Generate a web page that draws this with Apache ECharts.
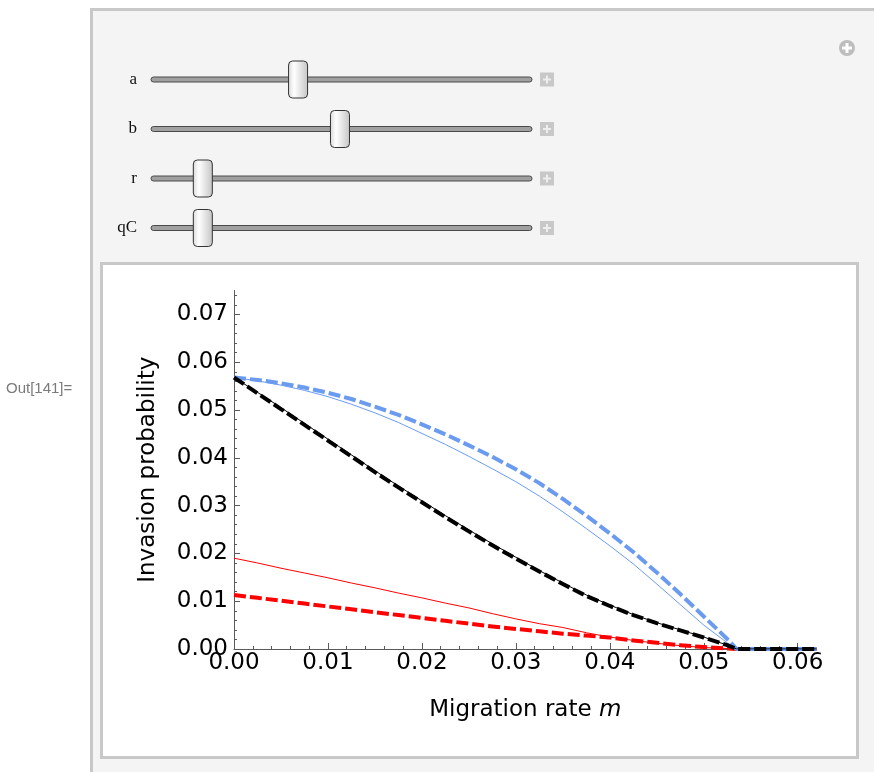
<!DOCTYPE html>
<html>
<head>
<meta charset="utf-8">
<script src="https://cdn.jsdelivr.net/npm/echarts@6/dist/echarts.min.js"></script>
<style>
html,body{margin:0;padding:0;background:#fff;}
#chart{width:874px;height:772px;}
</style>
</head>
<body>
<div id="chart"></div>
<script>
// ---- data ----
const mValues = [0, 0.0025, 0.005, 0.0075, 0.01, 0.0125, 0.015, 0.0175, 0.02, 0.0225, 0.025, 0.0275,
  0.03, 0.0325, 0.035, 0.0375, 0.04, 0.0425, 0.045, 0.0475, 0.05, 0.0525, 0.0535, 0.062];

const blueDashed = [0.0568, 0.0563, 0.0556, 0.0547, 0.0536, 0.0523, 0.0507, 0.0490, 0.0470, 0.0449, 0.0426, 0.0402,
  0.0376, 0.0347, 0.0314, 0.0279, 0.0242, 0.0203, 0.0160, 0.0115, 0.0068, 0.0021, 0, 0];
const blueThin = [0.0568, 0.0561, 0.0552, 0.0541, 0.0528, 0.0512, 0.0494, 0.0474, 0.0451, 0.0428, 0.0403, 0.0377,
  0.0350, 0.0320, 0.0287, 0.0252, 0.0216, 0.0178, 0.0136, 0.0093, 0.0050, 0.0013, 0, 0];
const blackDashed = [0.0568, 0.0535, 0.0502, 0.0469, 0.0436, 0.0403, 0.0370, 0.0338, 0.0307, 0.0276, 0.0246, 0.0217,
  0.0189, 0.0162, 0.0136, 0.0111, 0.0090, 0.0071, 0.0054, 0.0039, 0.0024, 0.0008, 0, 0];
const blackThin = [0.0568, 0.0537, 0.0505, 0.0472, 0.0439, 0.0406, 0.0373, 0.0341, 0.0310, 0.0279, 0.0249, 0.0220,
  0.0192, 0.0164, 0.0138, 0.0113, 0.0092, 0.0072, 0.0055, 0.0040, 0.0025, 0.0008, 0, 0];
const redThin = [0.0190, 0.0180, 0.0169, 0.0159, 0.0149, 0.0138, 0.0128, 0.0117, 0.0107, 0.0096, 0.0086, 0.0074,
  0.0063, 0.0053, 0.0045, 0.0034, 0.0025, 0.0018, 0.0012, 0.0007, 0.0003, 0.0001, 0, 0];
const redDashed = [0.0113, 0.0107, 0.0101, 0.0095, 0.0089, 0.0083, 0.0077, 0.0071, 0.0065, 0.0059, 0.0053, 0.0047,
  0.0042, 0.0037, 0.0032, 0.0028, 0.0024, 0.0018, 0.0013, 0.0008, 0.0004, 0.0001, 0, 0];

const xTicks = [0, 0.01, 0.02, 0.03, 0.04, 0.05, 0.06];
const xMinorTicks = [0.002,0.004,0.006,0.008,0.012,0.014,0.016,0.018,0.022,0.024,0.026,0.028,0.032,0.034,0.036,0.038,
  0.042,0.044,0.046,0.048,0.052,0.054,0.056,0.058];
const yTicks = [0, 0.01, 0.02, 0.03, 0.04, 0.05, 0.06, 0.07];
const yMinorTicks = [0.002,0.004,0.006,0.008,0.012,0.014,0.016,0.018,0.022,0.024,0.026,0.028,0.032,0.034,0.036,0.038,
  0.042,0.044,0.046,0.048,0.052,0.054,0.056,0.058,0.062,0.064,0.066,0.068,0.072,0.074];

const sliderNames = ['a', 'b', 'r', 'qC'];
const sliderValues = [0.386, 0.496, 0.136, 0.136];

// ---- chart ----
const chart = echarts.init(document.getElementById('chart'), null, {renderer: 'canvas'});
const FONT = 'DejaVu Sans';
const axisGray = '#5a5a5a';
const pair = v => mValues.map((m, i) => [m, v[i]]);

const graphics = [];
graphics.push({type: 'rect', silent: true, z: -20,
  shape: {x: 91.5, y: 9.5, width: 800, height: 800},
  style: {fill: '#f4f4f4', stroke: '#c8c8c8', lineWidth: 3}});
graphics.push({type: 'rect', silent: true, z: -19,
  shape: {x: 101.5, y: 263.5, width: 756, height: 494},
  style: {fill: '#ffffff', stroke: '#c8c8c8', lineWidth: 3}});
graphics.push({type: 'text', silent: true, z: -18, x: 6, y: 389,
  style: {text: 'Out[141]=', font: '15px "Liberation Sans"', fill: '#7a7a7a', verticalAlign: 'middle'}});
// plus circle icon
graphics.push({type: 'circle', silent: true, z: -18, shape: {cx: 847, cy: 48, r: 8}, style: {fill: '#bdbdbd'}});
graphics.push({type: 'line', silent: true, z: -17, shape: {x1: 842, y1: 48, x2: 852, y2: 48}, style: {stroke: '#fff', lineWidth: 3}});
graphics.push({type: 'line', silent: true, z: -17, shape: {x1: 847, y1: 43, x2: 847, y2: 53}, style: {stroke: '#fff', lineWidth: 3}});

const trackX = 151, trackW = 381;
sliderNames.forEach((nm, i) => {
  const ty = 79.5 + i * 49.5;
  graphics.push({type: 'text', silent: true, z: -18, x: 137, y: ty,
    style: {text: nm, font: '17px "Liberation Serif"', fill: '#111', align: 'right', verticalAlign: 'middle'}});
  graphics.push({type: 'rect', silent: true, z: -18,
    shape: {x: trackX, y: ty - 2.5, width: trackW, height: 5, r: 2.5},
    style: {fill: '#a0a0a0', stroke: '#4a4a4a', lineWidth: 1}});
  const tx = trackX + sliderValues[i] * trackW;
  graphics.push({type: 'rect', silent: true, z: -17,
    shape: {x: tx - 9.5, y: ty - 18.5, width: 19, height: 37, r: 4},
    style: {fill: new echarts.graphic.LinearGradient(0, 0, 1, 0, [
      {offset: 0, color: '#d8d8d8'}, {offset: 0.3, color: '#ffffff'}, {offset: 1, color: '#c4c4c4'}]),
      stroke: '#333', lineWidth: 1}});
  graphics.push({type: 'rect', silent: true, z: -18,
    shape: {x: 540, y: ty - 7, width: 14, height: 14},
    style: {fill: '#c8c8c8'}});
  graphics.push({type: 'line', silent: true, z: -17, shape: {x1: 543, y1: ty, x2: 551, y2: ty}, style: {stroke: '#eee', lineWidth: 2}});
  graphics.push({type: 'line', silent: true, z: -17, shape: {x1: 547, y1: ty - 4, x2: 547, y2: ty + 4}, style: {stroke: '#eee', lineWidth: 2}});
});

const lineSeries = (name, vals, color, width, dashed, z) => ({
  name, type: 'line', xAxisIndex: 0, yAxisIndex: 0, data: pair(vals),
  showSymbol: false, symbol: 'none', smooth: false, clip: true, z,
  lineStyle: {color, width, type: dashed ? [12, 4] : 'solid', cap: 'butt', join: 'round'},
  emphasis: {disabled: true}
});

const option = {
  animation: false,
  backgroundColor: '#ffffff',
  graphic: {elements: graphics},
  grid: {left: 234, top: 290.5, width: 582.5, height: 358.5, containLabel: false, outerBoundsMode: 'none'},
  xAxis: [{
    type: 'value', min: 0, max: 0.062, position: 'bottom',
    axisLine: {show: true, onZero: false, lineStyle: {color: axisGray, width: 1}},
    axisTick: {show: true, inside: true, length: 6, customValues: xTicks, lineStyle: {color: axisGray, width: 1}},
    axisLabel: {show: true, customValues: xTicks, formatter: v => v.toFixed(2), fontFamily: FONT, fontSize: 23, color: '#000', margin: 3},
    splitLine: {show: false},
    name: '{n|Migration rate }{i|m}', nameLocation: 'middle', nameGap: 50,
    nameTextStyle: {rich: {n: {fontFamily: FONT, fontSize: 23, color: '#000'}, i: {fontFamily: FONT, fontSize: 23, fontStyle: 'italic', color: '#000'}}}
  }, {
    type: 'value', min: 0, max: 0.062, position: 'bottom',
    axisLine: {show: false, onZero: false},
    axisTick: {show: true, inside: true, length: 3, customValues: xMinorTicks, lineStyle: {color: axisGray, width: 1}},
    axisLabel: {show: false}, splitLine: {show: false}
  }],
  yAxis: [{
    type: 'value', min: 0, max: 0.075, position: 'left',
    axisLine: {show: true, onZero: false, lineStyle: {color: axisGray, width: 1}},
    axisTick: {show: true, inside: true, length: 6, customValues: yTicks, lineStyle: {color: axisGray, width: 1}},
    axisLabel: {show: true, customValues: yTicks, formatter: v => v.toFixed(2), fontFamily: FONT, fontSize: 23, color: '#000', margin: 6},
    splitLine: {show: false},
    name: 'Invasion probability', nameLocation: 'middle', nameGap: 74, nameRotate: 90,
    nameTextStyle: {fontFamily: FONT, fontSize: 23, color: '#000'}
  }, {
    type: 'value', min: 0, max: 0.075, position: 'left',
    axisLine: {show: false, onZero: false},
    axisTick: {show: true, inside: true, length: 3, customValues: yMinorTicks, lineStyle: {color: axisGray, width: 1}},
    axisLabel: {show: false}, splitLine: {show: false}
  }],
  series: [
    lineSeries('red thin', redThin, '#ff0000', 1, false, 2),
    lineSeries('red dashed', redDashed, '#ff0000', 4, true, 3),
    lineSeries('blue thin', blueThin, '#6a9cf2', 1, false, 4),
    lineSeries('blue dashed', blueDashed, '#6b9bee', 4, true, 5),
    lineSeries('black thin', blackThin, '#000000', 1, false, 6),
    lineSeries('black dashed', blackDashed, '#000000', 4, true, 7)
  ]
};
chart.setOption(option);
</script>
</body>
</html>
